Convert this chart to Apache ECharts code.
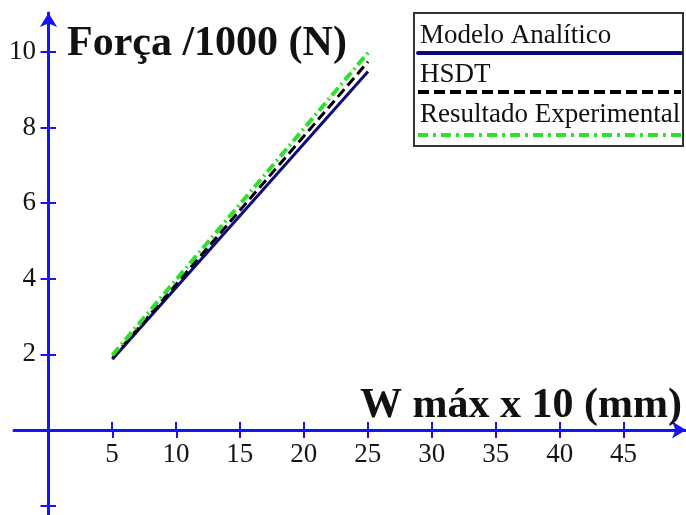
<!DOCTYPE html>
<html><head><meta charset="utf-8">
<script src="https://cdn.jsdelivr.net/npm/echarts@6/dist/echarts.min.js"></script>
<style>html,body{margin:0;padding:0;background:#fff}#c{width:686px;height:515px}</style>
</head><body><div id="c"></div>
<script>
const xTicks = [5, 10, 15, 20, 25, 30, 35, 40, 45];
const yLabels = [2, 4, 6, 8, 10];
const yTickMarks = [-2, 2, 4, 6, 8, 10];
const yNegTicks = [-2];
const xValues = [5, 25];
const modelo = [1.87, 9.48];
const hsdt = [1.90, 9.74];
const experimental = [1.98, 9.98];
const seriesNames = ['Modelo Analítico', 'HSDT', 'Resultado Experimental'];
const yTitle = 'Força /1000 (N)';
const xTitle = 'W máx x 10 (mm)';

const AX = '#1414f5';
const SERIF = '"Liberation Serif", "Times New Roman", serif';
const NAVY = '#0b0b7e';
const GREEN = '#2de02d';
const pairs = v => xValues.map((x, i) => [x, v[i]]);

const chart = echarts.init(document.getElementById('c'));
const XMIN = -2.7, XMAX = 49.88, YMIN = -2.25, YMAX = 11.03;
chart.setOption({
  animation: false,
  backgroundColor: '#fff',
  grid: [
    {left: 14, right: 0, top: 13, bottom: 0, containLabel: false, outerBoundsMode: 'none'},
    {left: 48, right: 0, top: 13, bottom: 85, containLabel: false, outerBoundsMode: 'none'},
    {left: 48, right: 0, top: 430, bottom: 0, containLabel: false, outerBoundsMode: 'none'}
  ],
  title: [
    {text: yTitle, left: 67, top: 23, padding: 0,
     textStyle: {fontFamily: SERIF, fontSize: 42, fontWeight: 'bold', color: '#111'}},
    {text: xTitle, right: 4, top: 385, padding: 0,
     textStyle: {fontFamily: SERIF, fontSize: 42, fontWeight: 'bold', color: '#111'}}
  ],
  xAxis: [
    {gridIndex: 0, type: 'value', min: XMIN, max: XMAX, splitLine: {show: false},
     axisLine: {show: true, onZero: true, symbol: ['none', 'arrow'], symbolSize: [13, 14],
                lineStyle: {color: AX, width: 3}},
     axisTick: {show: true, inside: false, length: 8, customValues: xTicks, lineStyle: {color: AX, width: 2}},
     axisLabel: {show: false}},
    {gridIndex: 1, type: 'value', min: 0, max: XMAX, splitLine: {show: false},
     axisLine: {show: false},
     axisTick: {show: true, inside: true, length: 8, customValues: xTicks, lineStyle: {color: AX, width: 2}},
     axisLabel: {show: true, customValues: xTicks, margin: 11, fontFamily: SERIF, fontSize: 27, color: '#151515'}},
    {gridIndex: 2, type: 'value', min: 0, max: XMAX, show: false}
  ],
  yAxis: [
    {gridIndex: 0, type: 'value', min: YMIN, max: YMAX, splitLine: {show: false},
     axisLine: {show: true, onZero: true, symbol: ['none', 'arrow'], symbolSize: [13, 14],
                lineStyle: {color: AX, width: 3}},
     axisTick: {show: true, inside: false, length: 8, customValues: yTickMarks, lineStyle: {color: AX, width: 2}},
     axisLabel: {show: false}},
    {gridIndex: 1, type: 'value', min: 0, max: YMAX, splitLine: {show: false},
     axisLine: {show: false},
     axisTick: {show: true, inside: true, length: 8, customValues: yLabels, lineStyle: {color: AX, width: 2}},
     axisLabel: {show: true, customValues: yLabels, margin: 12, fontFamily: SERIF, fontSize: 27, color: '#151515'}},
    {gridIndex: 2, type: 'value', min: YMIN, max: 0, splitLine: {show: false},
     axisLine: {show: false},
     axisTick: {show: true, inside: true, length: 8, customValues: yNegTicks, lineStyle: {color: AX, width: 2}},
     axisLabel: {show: false}}
  ],
  series: [
    {name: seriesNames[0], type: 'line', xAxisIndex: 0, yAxisIndex: 0, data: pairs(modelo), symbol: 'none', z: 3,
     lineStyle: {color: NAVY, width: 3}},
    {name: seriesNames[1], type: 'line', xAxisIndex: 0, yAxisIndex: 0, data: pairs(hsdt), symbol: 'none', z: 4,
     lineStyle: {color: '#000', width: 3, type: [10, 5]}},
    {name: seriesNames[2], type: 'line', xAxisIndex: 0, yAxisIndex: 0, data: pairs(experimental), symbol: 'none', z: 5,
     lineStyle: {color: GREEN, width: 4, type: [10, 4, 2, 4]}}
  ],
  graphic: [
    {type: 'rect', z: 10, shape: {x: 414, y: 13, width: 269, height: 133},
     style: {fill: '#fff', stroke: '#333', lineWidth: 2}},
    {type: 'text', z: 11, x: 420, y: 22,
     style: {text: seriesNames[0], font: '27px ' + SERIF, fill: '#111', verticalAlign: 'top', textVerticalAlign: 'top'}},
    {type: 'line', z: 11, shape: {x1: 418, y1: 53, x2: 681, y2: 53},
     style: {stroke: NAVY, lineWidth: 4, lineCap: 'round'}},
    {type: 'text', z: 11, x: 420, y: 61,
     style: {text: seriesNames[1], font: '27px ' + SERIF, fill: '#111', verticalAlign: 'top', textVerticalAlign: 'top'}},
    {type: 'line', z: 11, shape: {x1: 418, y1: 92, x2: 681, y2: 92},
     style: {stroke: '#000', lineWidth: 4, lineDash: [11, 5]}},
    {type: 'text', z: 11, x: 420, y: 101,
     style: {text: seriesNames[2], font: '27px ' + SERIF, fill: '#111', verticalAlign: 'top', textVerticalAlign: 'top'}},
    {type: 'line', z: 11, shape: {x1: 418, y1: 135, x2: 681, y2: 135},
     style: {stroke: GREEN, lineWidth: 4, lineDash: [10, 5, 3, 5]}}
  ]
});
</script></body></html>
